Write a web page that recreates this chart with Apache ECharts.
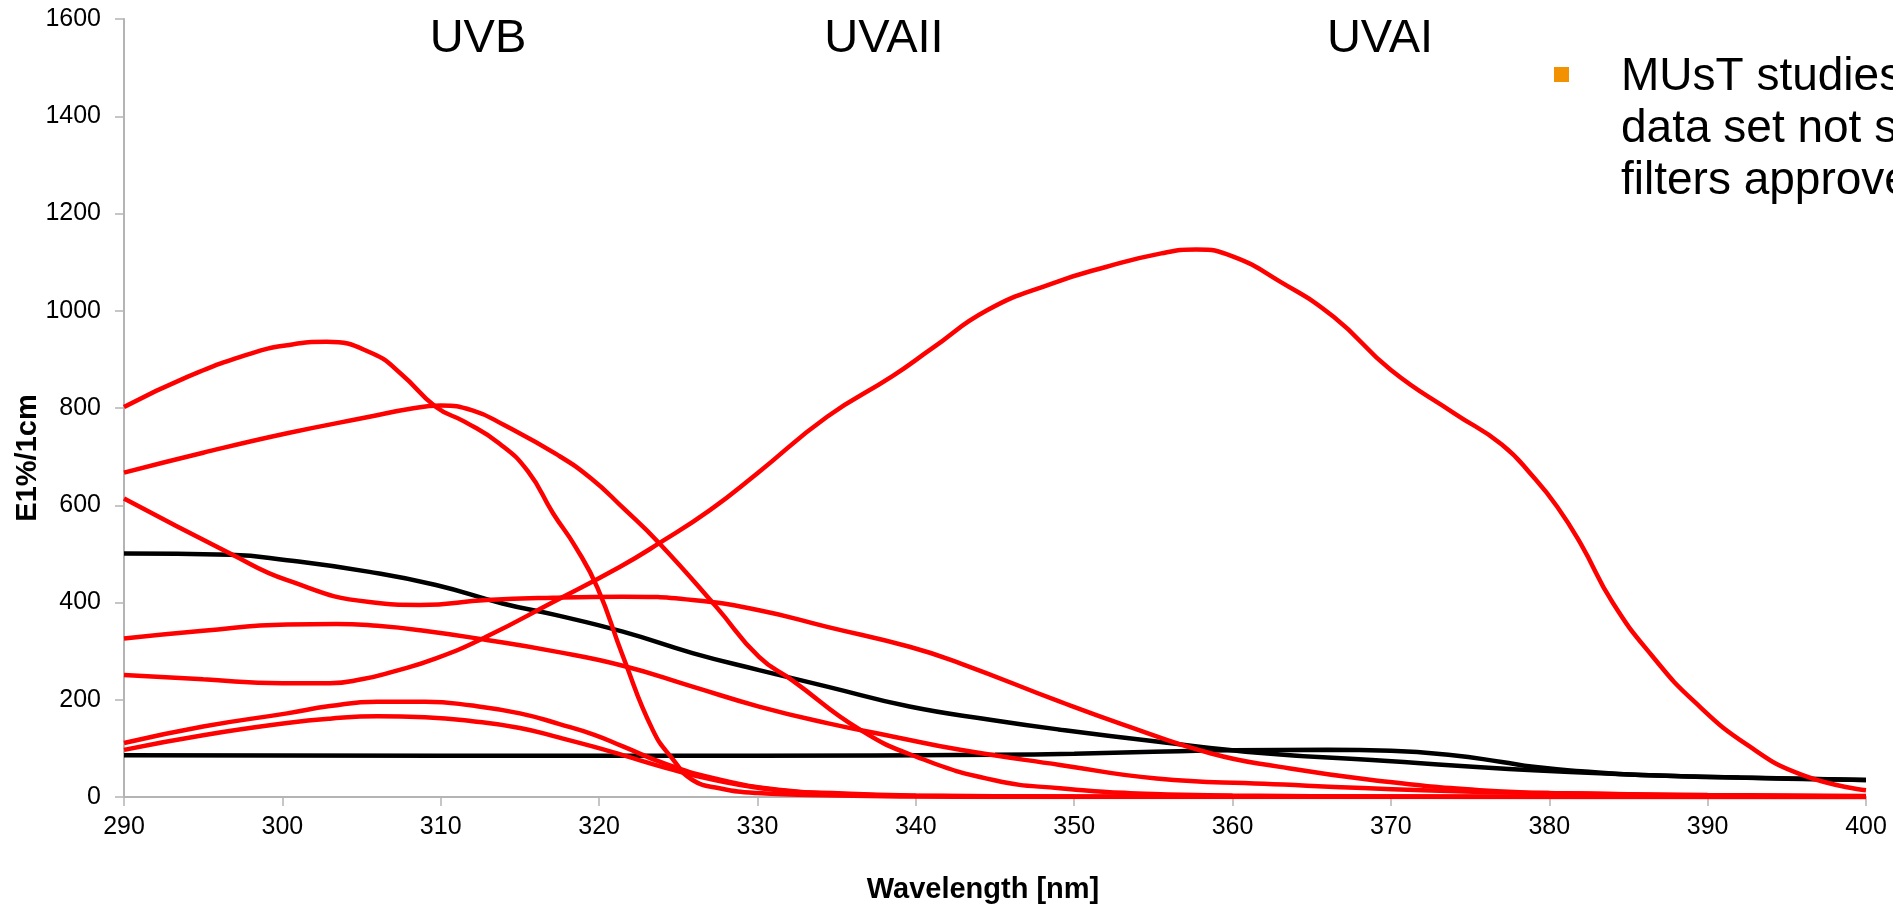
<!DOCTYPE html>
<html>
<head>
<meta charset="utf-8">
<title>UV absorbance</title>
<script src="https://cdn.jsdelivr.net/npm/echarts@6/dist/echarts.min.js"></script>
<style>
  html, body { margin: 0; padding: 0; background: #fff; }
  #main { width: 1893px; height: 907px; }
</style>
</head>
<body>
<div id="main"></div>
<script>
// wavelength (nm) and E1%/1cm readings, one pair of arrays per curve
var wlA = [290, 295, 300, 303, 305, 307, 309.7, 312.9, 317.1, 321.3, 323.8, 327, 330, 334.4, 338.5, 341, 344.5, 348.6, 352, 355.5, 357.7, 360, 363, 366.4, 370, 374, 377, 379, 380.5, 382, 384, 386.5, 389.2, 392.6, 396, 400];
var absA = [251, 242, 234, 234, 242, 258, 285, 330, 401, 473, 522, 590, 666, 782, 865, 922, 1001, 1056, 1090, 1118, 1126, 1112, 1060, 987, 878, 789, 725, 658, 597, 520, 400, 290, 195, 105, 45, 14];

var wlB = [290, 294, 298, 300.3, 302.8, 305.7, 307.5, 309.7, 311.5, 313.7, 315.5, 317.1, 318.5, 319.9, 321.5, 323.4, 324.7, 325.9, 327.6, 330, 335, 340, 350, 400];
var absB = [802, 864, 912, 929, 936, 912, 870, 802, 772, 727, 670, 583, 515, 430, 290, 137, 76, 35, 18, 8, 3, 1, 0, 0];

var wlC = [290, 295, 300.3, 305.5, 308, 310, 312, 314, 317.3, 319.5, 321.5, 323.8, 327.4, 330.1, 332.2, 336.5, 340.1, 344.9, 349.1, 355, 360, 370, 380, 400];
var absC = [667, 708, 748, 782, 798, 805, 795, 765, 705, 655, 595, 522, 391, 288, 240, 138, 82, 35, 18, 6, 3, 1, 0, 0];

var wlD = [290, 296.7, 300.3, 305.5, 308.7, 312.9, 317.1, 321.5, 325.9, 330.1, 334.4, 339.6, 342.8, 349.1, 353, 358.6, 363, 368.8, 375.6, 382, 390, 400];
var absD = [614, 501, 446, 401, 395, 405, 410, 412, 405, 384, 350, 309, 275, 196, 150, 90, 62, 35, 14, 7, 3, 1];

var wlE = [290, 295, 300.3, 303.4, 306, 308.7, 312.9, 317.1, 321.5, 325.9, 330.1, 334.4, 338.6, 342.8, 349.1, 355.2, 362, 372, 380, 390, 400];
var absE = [326, 342, 355, 356, 352, 343, 323, 300, 270, 227, 186, 152, 124, 97, 66, 38, 27, 14, 8, 4, 2];

var wlF = [290, 295, 300.3, 303, 306, 309, 312, 315, 317.5, 319.7, 321.5, 324.2, 327.3, 331.3, 335.4, 340, 350, 400];
var absF = [111, 145, 172, 187, 196, 196, 188, 172, 150, 128, 104, 68, 38, 15, 7, 3, 1, 0];

var wlG = [290, 295, 300.3, 303, 306, 309, 312, 315, 317.5, 319.7, 321.5, 324.2, 327.3, 331.3, 335.4, 340, 350, 400];
var absG = [97, 127, 152, 161, 166, 164, 156, 142, 122, 103, 86, 60, 35, 14, 6, 2, 1, 0];

var wlS = [290, 296.7, 300.3, 305.5, 309.7, 313.9, 317.3, 321.5, 325.9, 330.1, 334.4, 339.6, 344.9, 349, 355.2, 362, 368.8, 379, 389.2, 400];
var absS = [501, 498, 487, 463, 436, 398, 374, 340, 296, 261, 227, 186, 158, 139, 114, 90, 76, 55, 42, 35];

var wlT = [290, 310, 330, 345, 350, 355, 360, 366, 370, 373.9, 377, 379, 382, 385.8, 392, 400];
var absT = [86, 85, 85, 87, 89, 93, 96, 97, 95, 86, 72, 62, 53, 45, 40, 35];

var bandNames = ['UVB', 'UVAII', 'UVAI'];
var noteLines = ['MUsT studies show', 'data set not sufficient', 'filters approved'];

var FONT = "'Liberation Sans', Arial, sans-serif";

function pairs(xs, ys) {
  var out = [];
  for (var i = 0; i < xs.length; i++) out.push([xs[i], ys[i]]);
  return out;
}

function curve(name, xs, ys, color) {
  return {
    name: name,
    type: 'line',
    data: pairs(xs, ys),
    smooth: 0.5,
    showSymbol: false,
    lineStyle: { color: color, width: 4.5 },
    z: color === '#000000' ? 2 : 3
  };
}

var chart = echarts.init(document.getElementById('main'));

var bandX = [478, 884, 1380];
var graphics = [];
for (var b = 0; b < bandNames.length; b++) {
  graphics.push({
    type: 'text', x: bandX[b], y: 39,
    style: { text: bandNames[b], font: '47px ' + FONT, fill: '#000', align: 'center', verticalAlign: 'middle' }
  });
}
graphics.push({ type: 'rect', shape: { x: 1554, y: 67, width: 15, height: 15 }, style: { fill: '#F39200' } });
for (var k = 0; k < noteLines.length; k++) {
  graphics.push({
    type: 'text', x: 1621, y: 77 + k * 52,
    style: { text: noteLines[k], font: '46px ' + FONT, fill: '#000', align: 'left', verticalAlign: 'middle' }
  });
}
graphics.push({
  type: 'text', x: 983, y: 890,
  style: { text: 'Wavelength [nm]', font: 'bold 29px ' + FONT, fill: '#000', align: 'center', verticalAlign: 'middle' }
});
graphics.push({
  type: 'text', x: 28, y: 458, rotation: Math.PI / 2,
  style: { text: 'E1%/1cm', font: 'bold 29px ' + FONT, fill: '#000', align: 'center', verticalAlign: 'middle' }
});

function plain(v) { return String(v); }

chart.setOption({
  backgroundColor: '#ffffff',
  animation: false,
  grid: { left: 124, right: 27, top: 19, bottom: 110, containLabel: false },
  xAxis: {
    type: 'value', min: 290, max: 400, interval: 10,
    axisLine: { lineStyle: { color: '#b4b4b4', width: 2 } },
    axisTick: { show: true, length: 9, lineStyle: { color: '#b4b4b4', width: 1.5 } },
    axisLabel: { color: '#000', fontSize: 25, fontFamily: FONT, margin: 18, formatter: plain },
    splitLine: { show: false }
  },
  yAxis: {
    type: 'value', min: 0, max: 1600, interval: 200,
    axisLine: { show: true, lineStyle: { color: '#b4b4b4', width: 2 } },
    axisTick: { show: true, length: 9, lineStyle: { color: '#b4b4b4', width: 1.5 } },
    axisLabel: { color: '#000', fontSize: 25, fontFamily: FONT, margin: 23, formatter: plain },
    splitLine: { show: false }
  },
  graphic: graphics,
  series: [
    curve('T', wlT, absT, '#000000'),
    curve('S', wlS, absS, '#000000'),
    curve('A', wlA, absA, '#ff0000'),
    curve('B', wlB, absB, '#ff0000'),
    curve('C', wlC, absC, '#ff0000'),
    curve('D', wlD, absD, '#ff0000'),
    curve('E', wlE, absE, '#ff0000'),
    curve('F', wlF, absF, '#ff0000'),
    curve('G', wlG, absG, '#ff0000')
  ]
});
</script>
</body>
</html>
